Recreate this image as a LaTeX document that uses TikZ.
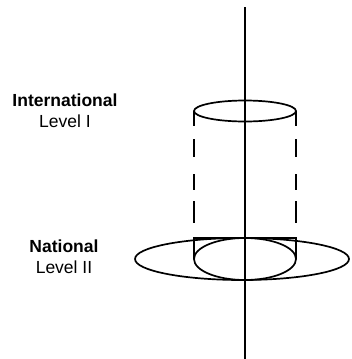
\documentclass[tikz,border=0pt]{standalone}
\usepackage{fontspec}
\setmainfont{Liberation Sans}
\usepackage{tikz}

\begin{document}
\begin{tikzpicture}
[x=1pt,y=-1pt
,lbl/.style={font=\fontsize{17.5}{21}\selectfont,align=center,inner sep=0pt}
,ring/.style={draw,line width=1.7pt}
,wall/.style={ring,dash pattern=on 15pt off 13pt on 18pt off 17pt on 16pt off 11pt on 22pt off 15pt}
]
\useasboundingbox (0,0) rectangle (351,359);
% level I, the upper disc and its walls
\draw[ring] (245,111) ellipse [x radius=51,y radius=10.5];
\draw[wall] (194,111) -- (194,238);
\draw[wall] (296,111) -- (296,238);
% level II, the wide disc with the foot of the cylinder
\draw[ring] (242,259) ellipse [x radius=107,y radius=21];
\draw[ring] (245,259) ellipse [x radius=51,y radius=21];
\draw[ring] (194,259) -- (194,238) -- (296,238) -- (296,259);
% axis
\coordinate (top) at (245,7);
\coordinate (foot) at (245,359);
\draw[ring] (top) -- (foot);
\node[lbl] (intl) at (65,111) {\textbf{International}\\Level I};
\node[lbl] (natl) at (64,257) {\textbf{National}\\Level II};
\end{tikzpicture}
\end{document}
